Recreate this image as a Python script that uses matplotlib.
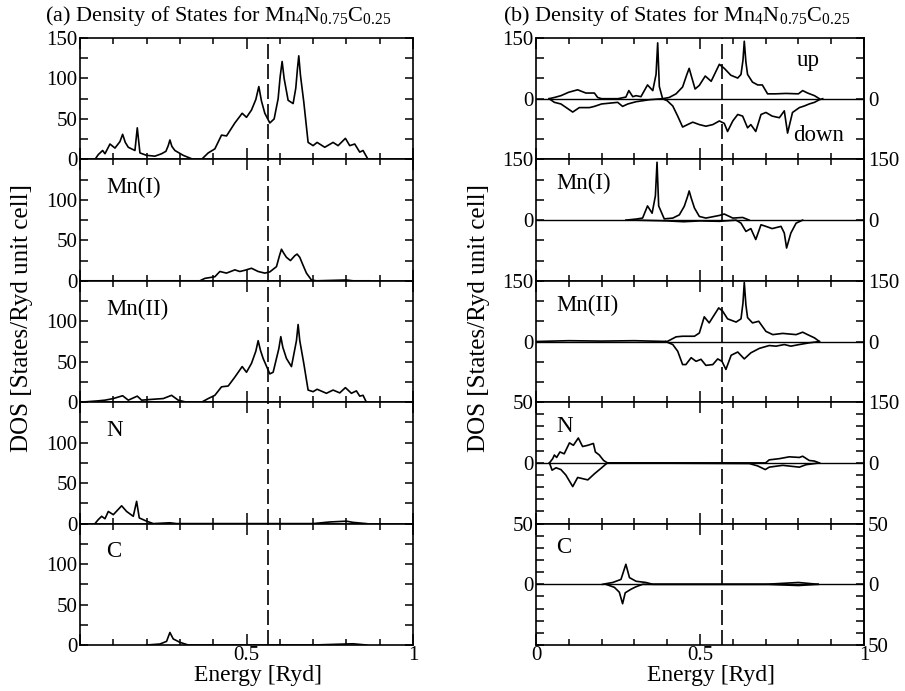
import matplotlib.pyplot as plt
import numpy as np

plt.rcParams['font.family'] = ['Liberation Serif', 'DejaVu Serif']
plt.rcParams['mathtext.fontset'] = 'custom'
plt.rcParams['mathtext.rm'] = 'Liberation Serif'
plt.rcParams['mathtext.it'] = 'Liberation Serif:italic'

E_F = 0.566

# ---- (a) total and partial DOS ----
tot_e = [0.045, 0.055, 0.068, 0.075, 0.09, 0.105, 0.12, 0.128, 0.136, 0.145, 0.165, 0.172, 0.18,
         0.2, 0.225, 0.245, 0.258, 0.265, 0.27, 0.276, 0.285, 0.31, 0.34, 0.365, 0.385, 0.405,
         0.425, 0.44, 0.465, 0.487, 0.5, 0.515, 0.528, 0.537, 0.545, 0.555, 0.57, 0.583, 0.595,
         0.601, 0.607, 0.613, 0.625, 0.64, 0.648, 0.653, 0.657, 0.662, 0.672, 0.685, 0.7,
         0.712, 0.735, 0.76, 0.775, 0.797, 0.81, 0.825, 0.84, 0.85, 0.865]
tot_v = [0, 6, 11, 7, 19, 14, 22, 31, 21, 15, 11, 39, 8,
         5, 4, 7, 10, 17, 24, 16, 11, 5, 0, 0, 8, 13,
         30, 29, 45, 57, 52, 61, 74, 90, 72, 57, 45, 50, 75,
         102, 121, 100, 73, 69, 88, 112, 128, 104, 71, 21, 17,
         21, 15, 21, 17, 26, 17, 19, 9, 11, 0]

mn1_e = [0.0, 0.30, 0.36, 0.375, 0.405, 0.42, 0.44, 0.465, 0.48, 0.495, 0.515, 0.535, 0.555,
         0.57, 0.59, 0.599, 0.605, 0.612, 0.62, 0.632, 0.645, 0.652, 0.66, 0.668, 0.68, 0.695,
         0.71, 0.80, 0.82, 0.87]
mn1_v = [0, 0, 0, 3, 5, 11.5, 9.5, 13.5, 11.5, 13, 15.5, 11.5, 9.5,
         11, 17.5, 31, 39, 34, 29, 25, 31, 33, 29, 21, 9.5, 1,
         0, 1, 0, 0]

mn2_e = [0.0, 0.05, 0.075, 0.1, 0.128, 0.145, 0.172, 0.185, 0.215, 0.25, 0.275, 0.295, 0.32,
         0.365, 0.385, 0.405, 0.425, 0.445, 0.465, 0.487, 0.5, 0.515, 0.528, 0.535, 0.542,
         0.55, 0.57, 0.58, 0.597, 0.603, 0.609, 0.62, 0.635, 0.65, 0.655, 0.66, 0.672, 0.685,
         0.7, 0.712, 0.74, 0.76, 0.78, 0.797, 0.815, 0.83, 0.84, 0.85, 0.86]
mn2_v = [0, 1.5, 2.5, 4.5, 8, 2.5, 7.5, 2.5, 3.5, 4.5, 8.5, 2.5, 0,
         0, 4.5, 8.5, 19, 20, 31, 44, 37, 48, 63, 76, 64,
         54, 35, 37, 66, 81, 68, 54, 44, 76, 96, 76, 48, 15,
         13, 16, 11, 15, 11.5, 18, 11, 14, 7.5, 8.5, 0]

n_e = [0.045, 0.055, 0.065, 0.075, 0.085, 0.1, 0.125, 0.14, 0.16, 0.17, 0.178, 0.2, 0.22,
       0.27, 0.29, 0.7, 0.75, 0.8, 0.82, 0.86]
n_v = [0, 5, 9, 6, 15, 11, 22, 15, 9, 27.5, 7, 3, 0,
       1, 0, 0, 2, 3, 1.5, 0]

c_e = [0.2, 0.24, 0.26, 0.27, 0.28, 0.3, 0.325, 0.7, 0.78, 0.82, 0.86]
c_v = [0, 1.2, 4.5, 15.5, 7.5, 3.3, 0, 0, 1, 1.5, 0]

# ---- (b) spin-resolved DOS (down plotted negative) ----
tup_e = [0.04, 0.056, 0.076, 0.1, 0.127, 0.152, 0.178, 0.188, 0.2, 0.25, 0.274, 0.283, 0.295,
         0.305, 0.32, 0.34, 0.356, 0.366, 0.371, 0.376, 0.386, 0.406, 0.427, 0.447, 0.46,
         0.467, 0.474, 0.485, 0.498, 0.516, 0.534, 0.559, 0.574, 0.594, 0.615, 0.625, 0.631,
         0.635, 0.64, 0.645, 0.66, 0.676, 0.69, 0.706, 0.73, 0.762, 0.8, 0.813, 0.828, 0.849,
         0.864]
tup_v = [0, 3, 7.5, 16, 22, 14, 14, 3, 0, 0, 4, 20, 5,
         7.5, 5, 34, 20, 60, 138, 30, 0, 3, 12, 29, 60,
         75, 55, 24, 33, 56, 43, 85, 75, 58, 51, 60, 95,
         142, 90, 60, 41, 34, 34, 12, 12, 13, 12, 20, 14, 7.5,
         0]
tdn_e = [0.04, 0.056, 0.076, 0.112, 0.132, 0.163, 0.178, 0.2, 0.249, 0.264, 0.28, 0.305, 0.346,
         0.386, 0.4, 0.417, 0.432, 0.447, 0.462, 0.478, 0.498, 0.518, 0.539, 0.559, 0.574,
         0.584, 0.6, 0.615, 0.63, 0.645, 0.655, 0.67, 0.686, 0.701, 0.72, 0.742, 0.757,
         0.767, 0.782, 0.803, 0.818, 0.833, 0.849, 0.864, 0.874]
tdn_v = [0, -9, -13, -33, -22, -22, -19, -13, -9, -19, -13, -7.5, -2.5,
         0, -5, -18, -43, -70, -64, -58, -64, -68, -64, -55, -61,
         -81, -55, -39, -43, -72, -64, -81, -39, -34, -43, -47, -30,
         -85, -34, -22, -18, -13, -9, -2.5, 0]

m1up_e = [0.274, 0.305, 0.325, 0.34, 0.354, 0.364, 0.369, 0.374, 0.391, 0.417, 0.437, 0.452,
          0.462, 0.467, 0.473, 0.483, 0.498, 0.518, 0.559, 0.574, 0.6, 0.63, 0.65]
m1up_v = [0, 2.5, 5, 35, 17, 60, 143, 35, 3, 5, 13, 34,
          58, 72, 55, 30, 9, 5, 11.5, 15, 5, 6.5, 0]
m1dn_e = [0.3, 0.4, 0.45, 0.5, 0.559, 0.61, 0.625, 0.64, 0.655, 0.67, 0.686, 0.701, 0.72,
          0.747, 0.757, 0.764, 0.777, 0.793, 0.813]
m1dn_v = [0, -2, -4, -2, -3, 0, -7.5, -28, -21, -48, -11.5, -15.5, -21,
          -15.5, -32, -69, -32, -7.5, 0]

m2up_e = [0.0, 0.1, 0.2, 0.3, 0.4, 0.406, 0.427, 0.447, 0.483, 0.498, 0.513, 0.528, 0.557,
          0.569, 0.584, 0.61, 0.625, 0.631, 0.635, 0.64, 0.645, 0.66, 0.679, 0.701, 0.722,
          0.752, 0.793, 0.813, 0.828, 0.849, 0.864]
m2up_v = [0, 2, 1, 2, 0, 2.5, 11.5, 13, 13, 21, 61, 46, 83,
          75, 56, 48, 56, 95, 146, 90, 59, 46, 50, 25, 17,
          20, 17, 23, 17, 9, 0]
m2dn_e = [0.395, 0.417, 0.432, 0.447, 0.457, 0.473, 0.488, 0.503, 0.518, 0.539, 0.554, 0.567,
          0.579, 0.595, 0.615, 0.635, 0.655, 0.681, 0.711, 0.732, 0.757, 0.777, 0.803, 0.833, 0.864]
m2dn_v = [0, -7.5, -24, -57, -57, -40, -49, -44, -59, -57, -43, -49,
          -69, -34, -26, -43, -28, -17, -10, -11.5, -7.5, -11.5, -7.5, -3.3, 0]

nup_e = [0.041, 0.051, 0.056, 0.063, 0.073, 0.086, 0.102, 0.114, 0.129, 0.142, 0.158, 0.175,
         0.181, 0.193, 0.206, 0.218, 0.7, 0.711, 0.742, 0.772, 0.803, 0.813, 0.833, 0.849, 0.864]
nup_v = [0, 3.5, 6.5, 4.5, 9, 7.5, 16.5, 14.5, 20.5, 13.5, 14.5, 16,
         9, 6.5, 2, 0, 0, 2.5, 3.5, 5, 4.5, 5.5, 2, 1.5, 0]
ndn_e = [0.041, 0.049, 0.061, 0.076, 0.091, 0.112, 0.127, 0.158, 0.178, 0.198, 0.213, 0.218,
         0.65, 0.676, 0.699, 0.711, 0.752, 0.803, 0.823, 0.864]
ndn_v = [0, -6, -4, -5.5, -10, -19.5, -12, -14, -9, -4.5, -1, 0,
         -0.5, -2.5, -5.5, -3.5, -2, -3.5, -1.5, 0]

cup_e = [0.203, 0.234, 0.259, 0.274, 0.285, 0.305, 0.335, 0.356, 0.7, 0.8, 0.86]
cup_v = [0, 1.5, 4, 16.5, 5.5, 2.5, 1.5, 0, 0, 1.5, 0]
cdn_e = [0.213, 0.239, 0.254, 0.264, 0.272, 0.29, 0.305, 0.325, 0.7, 0.8, 0.86]
cdn_v = [0, -2.5, -6.5, -16, -7, -4, -2, 0, 0, -1, 0]

names = ['', 'Mn(I)', 'Mn(II)', 'N', 'C']
left_data = [(tot_e, tot_v), (mn1_e, mn1_v), (mn2_e, mn2_v), (n_e, n_v), (c_e, c_v)]
right_data = [(tup_e, tup_v, tdn_e, tdn_v), (m1up_e, m1up_v, m1dn_e, m1dn_v),
              (m2up_e, m2up_v, m2dn_e, m2dn_v), (nup_e, nup_v, ndn_e, ndn_v),
              (cup_e, cup_v, cdn_e, cdn_v)]
right_max = [150, 150, 150, 50, 50]
right_step = [50, 50, 50, 10, 10]

W, H = 905, 691
fig = plt.figure(figsize=(W / 100, H / 100), dpi=100)
top_px, ph = 38, 121.4
fs = 15  # tick labels
lfs = 16.5  # panel labels


def common(ax, last, xlabels):
    ax.set_xlim(0, 1)
    ax.set_xticks([0, 0.5, 1])
    ax.set_xticks(np.arange(0, 1.01, 0.1), minor=True)
    ax.tick_params(axis='both', which='both', direction='in', top=True, right=True,
                   width=1.1, labelsize=fs)
    ax.tick_params(axis='x', which='major', length=8, pad=1)
    ax.tick_params(axis='x', which='minor', length=4)
    ax.tick_params(axis='y', length=6, pad=2)
    if last:
        ax.set_xticklabels(xlabels)
    else:
        ax.set_xticklabels([])
    for s in ax.spines.values():
        s.set_linewidth(1.2)
    ax.axvline(E_F, color='k', lw=1.2, dashes=(9, 3))


for i in range(5):
    bot = 1 - (top_px + (i + 1) * ph) / H
    # left column
    ax = fig.add_axes([80 / W, bot, 333 / W, ph / H])
    e, v = left_data[i]
    ax.plot(e, v, color='k', lw=1.2)
    ax.set_ylim(0, 150)
    ticks = np.arange(0, 151, 25)
    ax.set_yticks(ticks)
    ax.set_yticklabels([str(t) if (t % 50 == 0 and (t < 150 or i == 0)) else '' for t in ticks])
    common(ax, i == 4, ['', '0.5', '1'])
    if names[i]:
        ax.text(0.078, 115, names[i], fontsize=lfs, va='center', ha='left')

    # right column
    ax = fig.add_axes([536 / W, bot, 328 / W, ph / H])
    ue, uv, de, dv = right_data[i]
    m, st = right_max[i], right_step[i]
    ax.axhline(0, color='k', lw=1.0)
    ax.plot(ue, uv, color='k', lw=1.2)
    ax.plot(de, dv, color='k', lw=1.2)
    ax.set_ylim(-m, m)
    ticks = np.arange(-m, m + 1, st)
    ax.set_yticks(ticks)
    ax.set_yticklabels([str(t) if t in (m, 0) else '' for t in ticks])
    common(ax, i == 4, ['0', '0.5', '1'])
    sec = ax.secondary_yaxis('right')
    sec.set_yticks([0, -m], labels=['0', str(m)])
    sec.tick_params(length=0, labelsize=fs, pad=3)
    sec.spines['right'].set_linewidth(1.2)
    if names[i]:
        ax.text(0.062, 0.6 * m, names[i], fontsize=lfs, va='center', ha='left')
    if i == 0:
        ax.text(0.83, 94, 'up', fontsize=lfs, va='center', ha='center')
        ax.text(0.86, -91, 'down', fontsize=lfs, va='center', ha='center')

title = r'Density of States for Mn$_{\mathit{4}}$N$_{\mathit{0.75}}$C$_{\mathit{0.25}}$'
fig.text(45 / W, 1 - 16 / H, '(a) ' + title, fontsize=16, va='center', ha='left')
fig.text(503 / W, 1 - 16 / H, '(b) ' + title, fontsize=16, va='center', ha='left')
for x in (22, 479):
    fig.text(x / W, 1 - 318 / H, 'DOS [States/Ryd unit cell]', fontsize=18,
             rotation=90, va='center', ha='center')
for x in (258, 711):
    fig.text(x / W, 1 - 675 / H, 'Energy [Ryd]', fontsize=17, va='center', ha='center')

fig.savefig('out.png', dpi=100)
